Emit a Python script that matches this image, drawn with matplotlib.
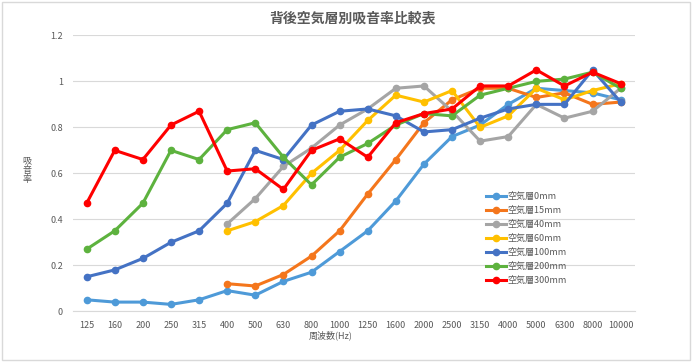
import matplotlib
matplotlib.use("Agg")
import matplotlib.pyplot as plt
from matplotlib.patches import Rectangle

plt.rcParams['font.family'] = ['Noto Sans CJK JP', 'DejaVu Sans']

# Frequencies (Hz) on the category axis
freqs = ["125", "160", "200", "250", "315", "400", "500", "630", "800", "1000",
         "1250", "1600", "2000", "2500", "3150", "4000", "5000", "6300", "8000", "10000"]

# Absorption coefficients per air gap (None = not measured)
gap_0 = [0.05, 0.04, 0.04, 0.03, 0.05, 0.09, 0.07, 0.13, 0.17, 0.26,
         0.35, 0.48, 0.64, 0.76, 0.81, 0.90, 0.97, 0.96, 0.95, 0.92]
gap_15 = [None, None, None, None, None, 0.12, 0.11, 0.16, 0.24, 0.35,
          0.51, 0.66, 0.82, 0.92, 0.97, 0.97, 0.93, 0.95, 0.90, 0.91]
gap_40 = [None, None, None, None, None, 0.38, 0.49, 0.63, 0.71, 0.81,
          0.88, 0.97, 0.98, 0.87, 0.74, 0.76, 0.90, 0.84, 0.87, 0.97]
gap_60 = [None, None, None, None, None, 0.35, 0.39, 0.46, 0.60, 0.70,
          0.83, 0.94, 0.91, 0.96, 0.80, 0.85, 0.97, 0.92, 0.96, 0.99]
gap_100 = [0.15, 0.18, 0.23, 0.30, 0.35, 0.47, 0.70, 0.66, 0.81, 0.87,
           0.88, 0.85, 0.78, 0.79, 0.84, 0.88, 0.90, 0.90, 1.05, 0.91]
gap_200 = [0.27, 0.35, 0.47, 0.70, 0.66, 0.79, 0.82, 0.67, 0.55, 0.67,
           0.73, 0.81, 0.86, 0.85, 0.94, 0.97, 1.00, 1.01, 1.04, 0.97]
gap_300 = [0.47, 0.70, 0.66, 0.81, 0.87, 0.61, 0.62, 0.53, 0.70, 0.75,
           0.67, 0.82, 0.86, 0.88, 0.98, 0.98, 1.05, 0.98, 1.04, 0.99]

series = [gap_0, gap_15, gap_40, gap_60, gap_100, gap_200, gap_300]
labels = ["空気層0mm", "空気層15mm", "空気層40mm", "空気層60mm",
          "空気層100mm", "空気層200mm", "空気層300mm"]
colors = ["#4E9AD8", "#F4761C", "#A5A5A5", "#FFC000", "#4472C4", "#5DB23E", "#FF0000"]

fig = plt.figure(figsize=(6.94, 3.64), dpi=100)
ax = fig.add_axes([0.1046, 0.1448, 0.81, 0.758])

# outer chart border
fig.patches.append(Rectangle((0.003, 0.01), 0.991, 0.985, transform=fig.transFigure,
                             fill=False, edgecolor="#D9D9D9", linewidth=1))

x = list(range(len(freqs)))
for vals, lab, col in zip(series, labels, colors):
    xs = [i for i, v in zip(x, vals) if v is not None]
    ys = [v for v in vals if v is not None]
    ax.plot(xs, ys, color=col, linewidth=2.2, marker="o", markersize=4.5, label=lab)

ax.set_xlim(-0.5, len(freqs) - 0.5)
ax.set_ylim(0, 1.2)
ax.set_xticks(x)
ax.set_xticklabels(freqs)
ax.set_yticks([0, 0.2, 0.4, 0.6, 0.8, 1.0, 1.2])
ax.set_yticklabels(["0", "0.2", "0.4", "0.6", "0.8", "1", "1.2"])
ax.tick_params(length=0, labelsize=6.5, labelcolor="#595959", pad=7)
ax.grid(axis="y", color="#D9D9D9", linewidth=0.8)
ax.set_axisbelow(True)
for s in ["top", "right", "left"]:
    ax.spines[s].set_visible(False)
ax.spines["bottom"].set_color("#D9D9D9")

fig.text(0.508, 0.95, "背後空気層別吸音率比較表", ha="center", va="center",
         fontsize=10, fontweight="bold", color="#595959")
fig.text(0.477, 0.078, "周波数(Hz)", ha="center", va="center", fontsize=6.5, color="#595959")
# vertical y label, one character per line
for k, ch in enumerate("吸音率"):
    fig.text(0.039, 0.558 - k * 0.026, ch, ha="center", va="center", fontsize=6.5,
             color="#595959")

ax.legend(loc="upper left", bbox_to_anchor=(0.727, 0.45), frameon=False,
          fontsize=6.5, labelcolor="#595959", handlelength=2.2, handletextpad=0.2,
          labelspacing=0.55, borderpad=0)

fig.savefig("out.png", dpi=100)
